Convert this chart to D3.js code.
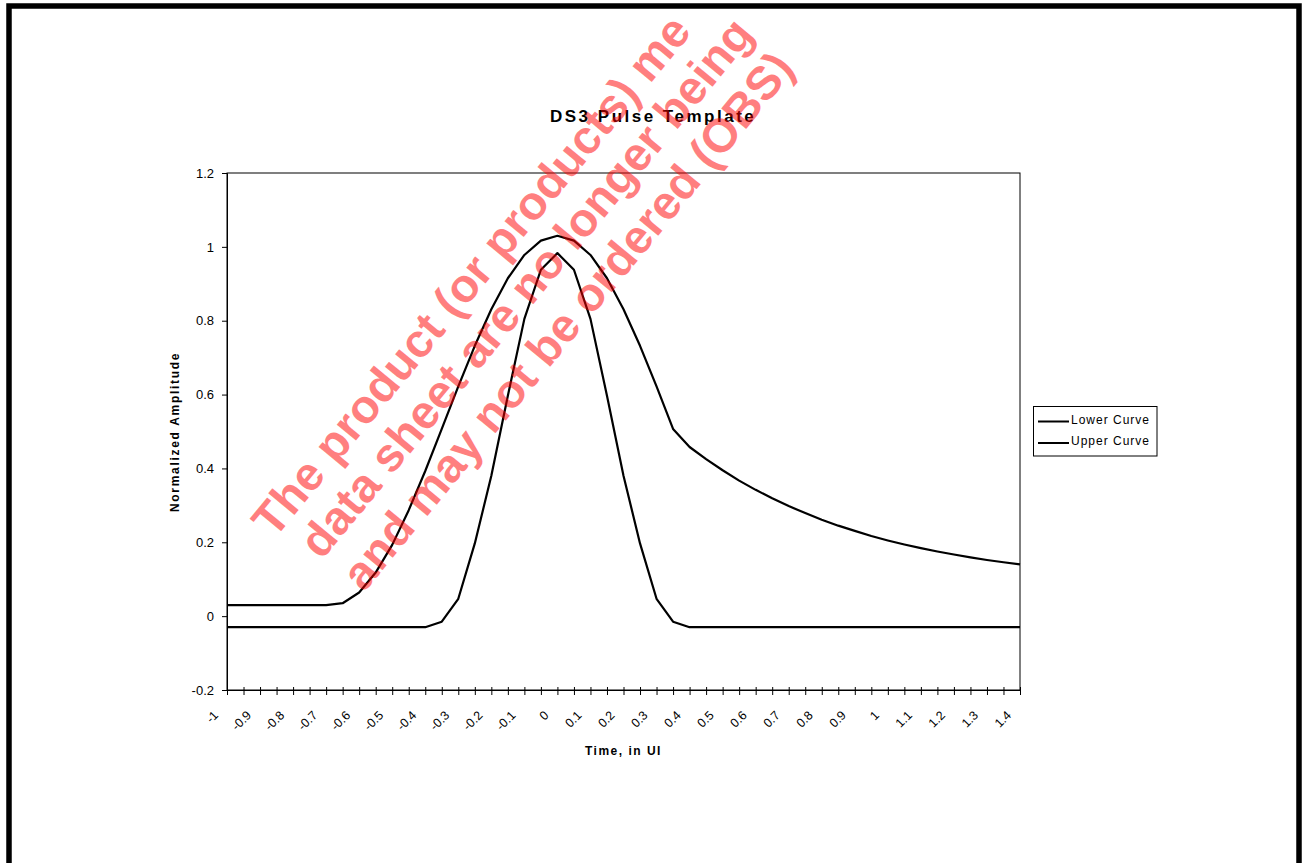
<!DOCTYPE html>
<html>
<head>
<meta charset="utf-8">
<script src="https://cdn.jsdelivr.net/npm/d3@7"></script>
<style>
  body { margin: 0; background: #fff; }
  svg { display: block; }
  text { font-family: Arial, "Liberation Sans", sans-serif; fill: #000; }
</style>
</head>
<body>
<svg id="chart" width="1303" height="863"></svg>
<script>
// ---- data ----
const categories = ["-1","-0.95","-0.9","-0.85","-0.8","-0.75","-0.7","-0.65","-0.6","-0.55",
  "-0.5","-0.45","-0.4","-0.35","-0.3","-0.25","-0.2","-0.15","-0.1","-0.05",
  "0","0.05","0.1","0.15","0.2","0.25","0.3","0.35","0.4","0.45",
  "0.5","0.55","0.6","0.65","0.7","0.75","0.8","0.85","0.9","0.95",
  "1","1.05","1.1","1.15","1.2","1.25","1.3","1.35","1.4"];

const lowerCurve = [-0.03,-0.03,-0.03,-0.03,-0.03,-0.03,-0.03,-0.03,-0.03,-0.03,
  -0.03,-0.03,-0.03,-0.015,0.047,0.197,0.38,0.597,0.805,0.938,
  0.983,0.938,0.805,0.597,0.38,0.197,0.047,-0.015,-0.03,-0.03,
  -0.03,-0.03,-0.03,-0.03,-0.03,-0.03,-0.03,-0.03,-0.03,-0.03,
  -0.03,-0.03,-0.03,-0.03,-0.03,-0.03,-0.03,-0.03,-0.03];

const upperCurve = [0.03,0.03,0.03,0.03,0.03,0.03,0.03,0.035,0.064,0.118,
  0.193,0.287,0.393,0.507,0.622,0.732,0.831,0.915,0.978,1.017,
  1.03,1.017,0.978,0.915,0.831,0.732,0.622,0.507,0.458,0.425,
  0.395,0.367,0.342,0.319,0.298,0.279,0.261,0.245,0.231,0.217,
  0.205,0.194,0.184,0.175,0.167,0.159,0.152,0.146,0.14];

const xTickLabels = ["-1","-0.9","-0.8","-0.7","-0.6","-0.5","-0.4","-0.3","-0.2","-0.1",
  "0","0.1","0.2","0.3","0.4","0.5","0.6","0.7","0.8","0.9","1","1.1","1.2","1.3","1.4"];
const yTicks = [-0.2, 0, 0.2, 0.4, 0.6, 0.8, 1, 1.2];
const yTickLabels = ["-0.2","0","0.2","0.4","0.6","0.8","1","1.2"];

const seriesNames = ["Lower Curve", "Upper Curve"];
const titleText = "DS3 Pulse Template";
const xTitle = "Time, in UI";
const yTitle = "Normalized Amplitude";
const watermarkLines = ["The product (or products) me", "data sheet are no longer being", "and may not be ordered (OBS)"];

// ---- drawing ----
const svg = d3.select("#chart");
const L = 227, R = 1020, T = 173, B = 690;

const x = d3.scalePoint().domain(categories).range([L, R]);
const y = d3.scaleLinear().domain([-0.2, 1.2]).range([B, T]);

// outer frame
svg.append("rect")
  .attr("x", 9).attr("y", 6).attr("width", 1290).attr("height", 880)
  .attr("fill", "none").attr("stroke", "#000").attr("stroke-width", 5.5);

// plot area border
svg.append("rect")
  .attr("x", L).attr("y", T).attr("width", R - L).attr("height", B - T)
  .attr("fill", "none").attr("stroke", "#000").attr("stroke-width", 1);

// y axis
const yAxis = svg.append("g").attr("transform", `translate(${L},0)`)
  .call(d3.axisLeft(y).tickValues(yTicks).tickSize(5).tickPadding(8)
    .tickFormat((d, i) => yTickLabels[i]));
yAxis.select(".domain").attr("stroke", "#000");
yAxis.selectAll(".tick line").attr("stroke", "#000");
yAxis.selectAll(".tick text").attr("font-size", 13).attr("font-family", 'Arial, "Liberation Sans", sans-serif');

// x axis with crossing ticks
const xAxis = svg.append("g").attr("transform", `translate(0,${B})`)
  .call(d3.axisBottom(x).tickSize(5).tickFormat(""));
xAxis.select(".domain").attr("stroke", "#000");
xAxis.selectAll(".tick line").attr("stroke", "#000").attr("y1", -3).attr("y2", 5);

// x tick labels (every second category), rotated
svg.append("g").selectAll("text").data(xTickLabels).join("text")
  .attr("transform", d => `translate(${x(d) - 8},716) rotate(-45)`)
  .attr("text-anchor", "end")
  .attr("font-size", 12.5)
  .text(d => d);

// curves
const line = d3.line().x((d, i) => x(categories[i])).y(d => y(d));
[lowerCurve, upperCurve].forEach(s => {
  svg.append("path").datum(s)
    .attr("d", line)
    .attr("fill", "none").attr("stroke", "#000")
    .attr("stroke-width", 2.2).attr("stroke-linejoin", "round");
});

// titles
svg.append("text").attr("x", 550).attr("y", 122)
  .attr("font-size", 17).attr("font-weight", "bold").attr("letter-spacing", 2.5)
  .text(titleText);
svg.append("text").attr("x", 585).attr("y", 755)
  .attr("font-size", 12).attr("font-weight", "bold").attr("letter-spacing", 1.5)
  .text(xTitle);
svg.append("text").attr("transform", "translate(179,432) rotate(-90)")
  .attr("text-anchor", "middle")
  .attr("font-size", 12).attr("font-weight", "bold").attr("letter-spacing", 1.7)
  .text(yTitle);

// legend
const lg = svg.append("g");
lg.append("rect").attr("x", 1033.5).attr("y", 406.5).attr("width", 123.5).attr("height", 49.5)
  .attr("fill", "#fff").attr("stroke", "#000").attr("stroke-width", 1);
seriesNames.forEach((name, i) => {
  const yy = 421.5 + i * 21.5;
  lg.append("line").attr("x1", 1038).attr("x2", 1069).attr("y1", yy).attr("y2", yy)
    .attr("stroke", "#000").attr("stroke-width", 2);
  lg.append("text").attr("x", 1071).attr("y", 423.5 + i * 21.5)
    .attr("font-size", 12).attr("letter-spacing", 1).text(name);
});

// watermark
const wmStart = [-242, -228, -226];
const wmBase = [555, 605, 658];
const wm = svg.append("g").attr("transform", "rotate(-50.5)");
watermarkLines.forEach((t, i) => {
  wm.append("text").attr("x", wmStart[i]).attr("y", wmBase[i])
    .attr("font-size", 47).attr("font-weight", "bold")
    .style("fill", "#ff0000").attr("fill-opacity", 0.5)
    .text(t);
});
</script>
</body>
</html>
